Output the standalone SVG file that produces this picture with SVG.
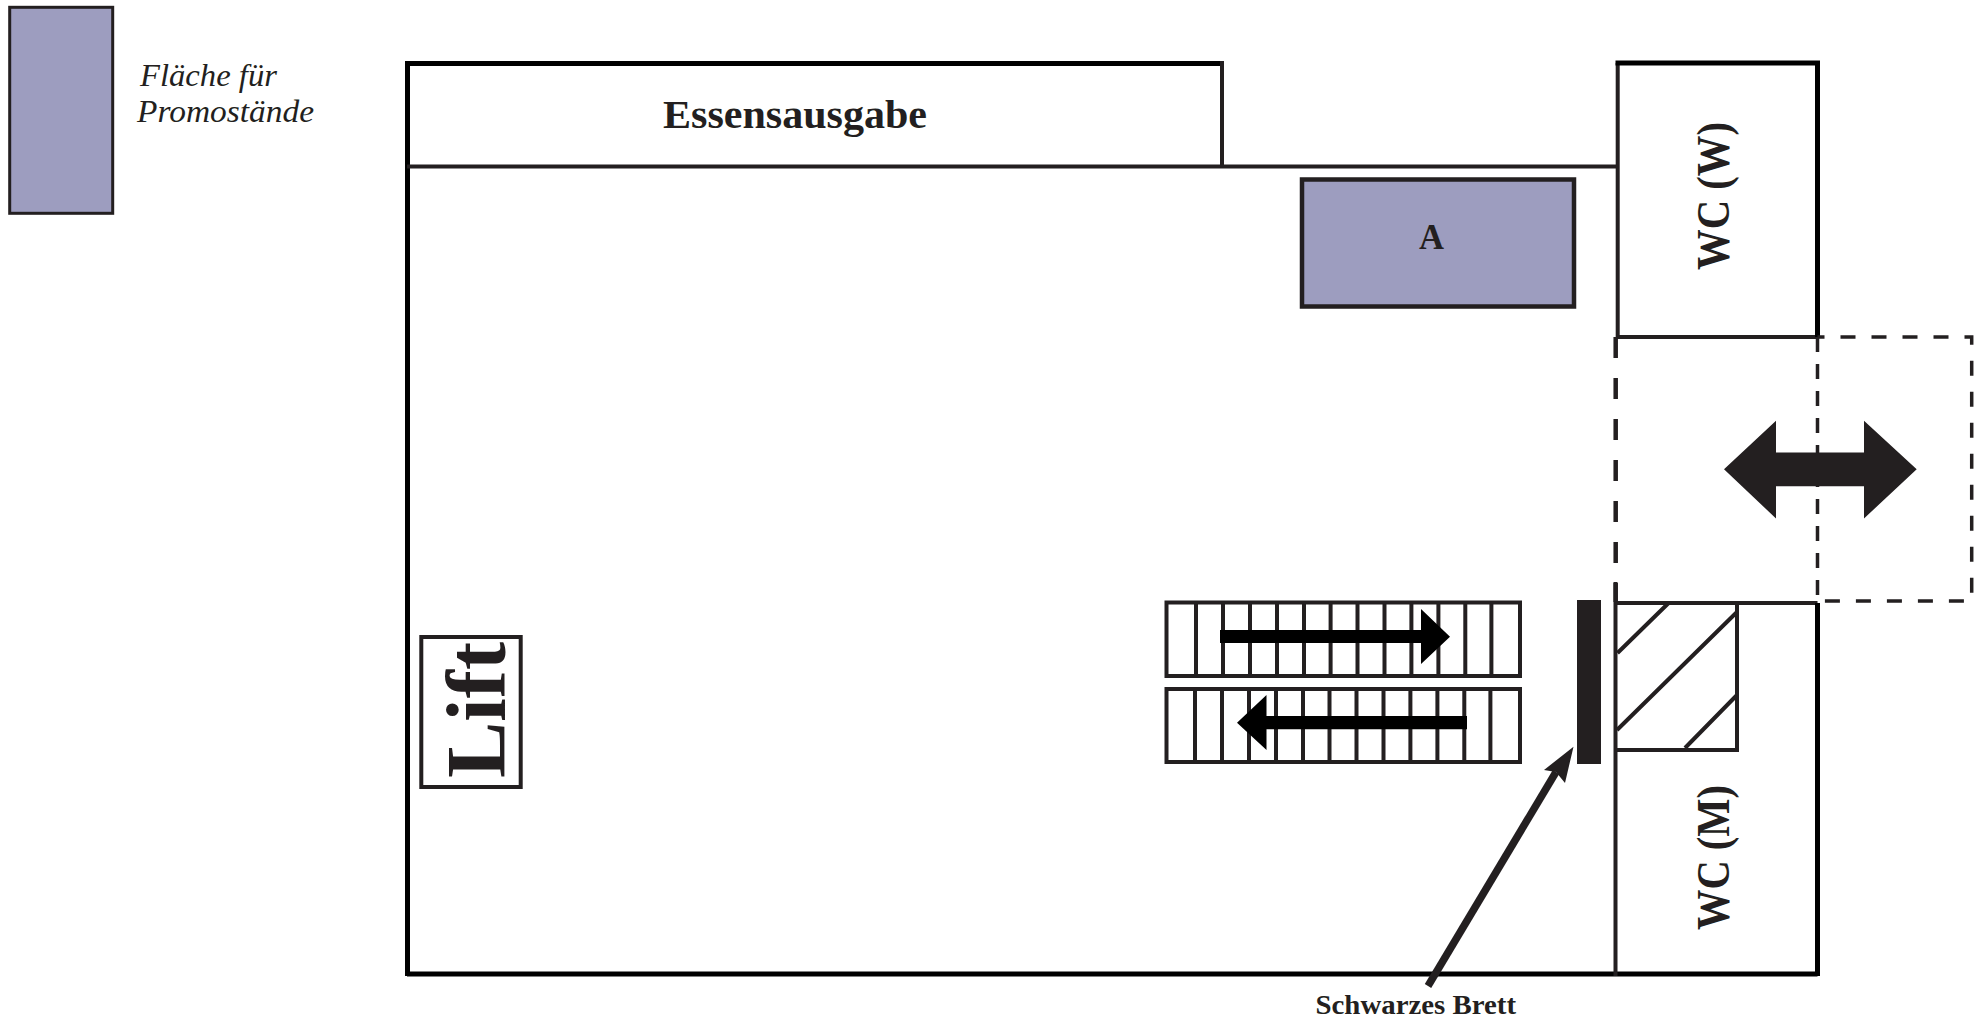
<svg xmlns="http://www.w3.org/2000/svg" width="1981" height="1019" viewBox="0 0 1981 1019">
<style>
text{font-family:"Liberation Serif","DejaVu Serif",serif;fill:#231f20}
.b{font-weight:700}
.w{fill:none;stroke:#000;stroke-width:5}
.l{fill:none;stroke:#231f20;stroke-width:4}
.p{fill:#9d9dbf;stroke:#231f20}
.f{fill:#231f20}
.k{fill:#000}
</style>
<rect width="1981" height="1019" fill="#fff"/>
<g id="legend">
<rect class="p" stroke-width="3" x="9.7" y="7.3" width="103" height="206"/>
<text font-style="italic" font-size="31" x="140" y="86" textLength="137" lengthAdjust="spacingAndGlyphs">Fläche für</text>
<text font-style="italic" font-size="31" x="137" y="122" textLength="177" lengthAdjust="spacingAndGlyphs">Promostände</text>
</g>
<g id="hall">
<path class="w" d="M407.5 976V63.5H1222M407 974H1817.5"/>
<path class="l" stroke-width="4.5" d="M407 166.5H1617M1222 61V166.5"/>
</g>
<g id="essensausgabe">
<text class="b" font-size="41" x="663" y="127.5" textLength="264" lengthAdjust="spacingAndGlyphs">Essensausgabe</text>
</g>
<g id="stand-a">
<rect class="p" stroke-width="4.5" x="1302" y="179.5" width="272" height="127"/>
<text class="b" font-size="35" x="1419" y="249" textLength="25" lengthAdjust="spacingAndGlyphs">A</text>
</g>
<g id="wc-w">
<path class="l" d="M1617.7 63V337H1817.5"/>
<path class="w" d="M1615.5 63H1817.5V337"/>
<text class="b" font-size="47" font-weight="400" transform="translate(1729 270) rotate(-90)" textLength="148" lengthAdjust="spacingAndGlyphs">WC (W)</text>
</g>
<g id="passage">
<path fill="none" stroke="#231f20" stroke-width="4.5" stroke-dasharray="21 20" d="M1615.7 337V602"/>
<path fill="none" stroke="#231f20" stroke-width="3.5" stroke-dasharray="15 12" d="M1817.5 337V602"/>
<path fill="none" stroke="#231f20" stroke-width="3.5" stroke-dasharray="15 16" stroke-dashoffset="8" d="M1817.5 337H1971.7V601H1817.5"/>
<path class="f" d="M1724 469.2L1776 420.7V452.6H1864V420.7L1916.7 469.2L1864 518.5V486.3H1776V518.5Z"/>
</g>
<g id="wc-m">
<path class="l" d="M1615.5 582V976"/>
<path class="l" d="M1617 603H1817.5M1737 603V750H1617M1617.5 653L1668.6 603M1617 730L1737 612M1685 748L1737 695"/>
<path class="w" d="M1817.5 603V976"/>
<text class="b" font-size="47" font-weight="400" transform="translate(1729 930) rotate(-90)" textLength="145" lengthAdjust="spacingAndGlyphs">WC (M)</text>
</g>
<g id="stairs">
<path class="l" d="M1166.5 602.5H1520V676H1166.5ZM1196 602V676M1223 602V676M1250 602V676M1277 602V676M1304 602V676M1330.6 602V676M1357.5 602V676M1384.5 602V676M1411.4 602V676M1438.4 602V676M1465.3 602V676M1491.4 602V676"/>
<path class="l" d="M1166.5 689H1520V762H1166.5ZM1195 689V762M1222 689V762M1249 689V762M1276 689V762M1303 689V762M1329.5 689V762M1356.5 689V762M1383.5 689V762M1410.4 689V762M1437.4 689V762M1464.3 689V762M1490.4 689V762"/>
<path class="k" d="M1220 630H1421V609L1450 636.7L1421 664V643H1220Z"/>
<path class="k" d="M1467 716H1266.5V695L1237 722.7L1266.5 750V729.3H1467Z"/>
</g>
<g id="schwarzes-brett">
<rect class="f" x="1577" y="600" width="24" height="164"/>
<text class="b" font-size="28" x="1315.5" y="1014" textLength="200.5" lengthAdjust="spacingAndGlyphs">Schwarzes Brett</text>
</g>
<g id="lift">
<rect fill="#fff" stroke="#231f20" stroke-width="4" x="421.3" y="637" width="99.4" height="150"/>
<text font-family="DejaVu Serif" class="b" font-size="84" transform="translate(505 778) rotate(-90)" textLength="136" lengthAdjust="spacingAndGlyphs">Lift</text>
</g>
<g id="connectors">
<path fill="none" stroke="#231f20" stroke-width="7.5" d="M1428 986L1556 772"/>
<path class="f" d="M1573.5 746.7L1565 783L1556 772L1544 770Z"/>
</g>
</svg>
